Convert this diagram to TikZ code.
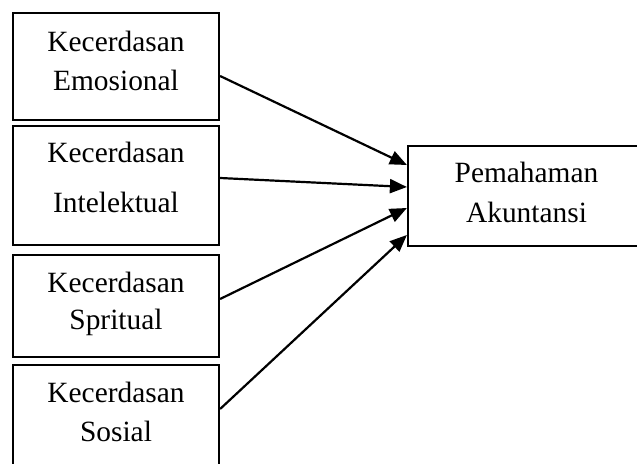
\documentclass[tikz,border=0pt]{standalone}
\usepackage{fontspec}
\setmainfont{Liberation Serif}
\usetikzlibrary{arrows.meta}
\begin{document}
\begin{tikzpicture}[x=0.5pt,y=-0.5pt,
  box/.style={draw,line width=1.1pt,inner sep=0pt,rectangle},
  lbl/.style={anchor=base,inner sep=0pt,font=\fontsize{14.7pt}{17pt}\selectfont},
  arr/.style={line width=1.1pt,-{Triangle[length=8.5pt,width=7pt]}}]
\useasboundingbox (0,0) rectangle (637,464);
\clip (0,0) rectangle (637,464);
\node[box,minimum width=206*0.5pt,minimum height=107*0.5pt] (b1) at (116,66.5) {};
\node[box,minimum width=206*0.5pt,minimum height=119*0.5pt] (b2) at (116,185.5) {};
\node[box,minimum width=206*0.5pt,minimum height=102*0.5pt] (b3) at (116,306) {};
\node[box,minimum width=206*0.5pt,minimum height=110*0.5pt] (b4) at (116,420) {};
\node[box,minimum width=237*0.5pt,minimum height=100*0.5pt] (r) at (526.5,196) {};
\node[lbl] (t1a) at (116,52) {Kecerdasan};
\node[lbl] (t1b) at (116,91) {Emosional};
\node[lbl] (t2a) at (116,163) {Kecerdasan};
\node[lbl] (t2b) at (116,213) {Intelektual};
\node[lbl] (t3a) at (116,293) {Kecerdasan};
\node[lbl] (t3b) at (116,330) {Spritual};
\node[lbl] (t4a) at (116,403) {Kecerdasan};
\node[lbl] (t4b) at (116,442) {Sosial};
\node[lbl] (tra) at (526.5,183) {Pemahaman};
\node[lbl] (trb) at (526.5,223) {Akuntansi};
\coordinate (s1) at (b1.east |- 0,76);
\coordinate (s2) at (b2.east |- 0,178);
\coordinate (s3) at (b3.east |- 0,299);
\coordinate (s4) at (b4.east |- 0,409);
\coordinate (e1) at (r.west |- 0,165);
\coordinate (e2) at (r.west |- 0,187);
\coordinate (e3) at (r.west |- 0,208);
\coordinate (e4) at (r.west |- 0,235);
\draw[arr] (s1) -- (e1);
\draw[arr] (s2) -- (e2);
\draw[arr] (s3) -- (e3);
\draw[arr] (s4) -- (e4);
\end{tikzpicture}
\end{document}
